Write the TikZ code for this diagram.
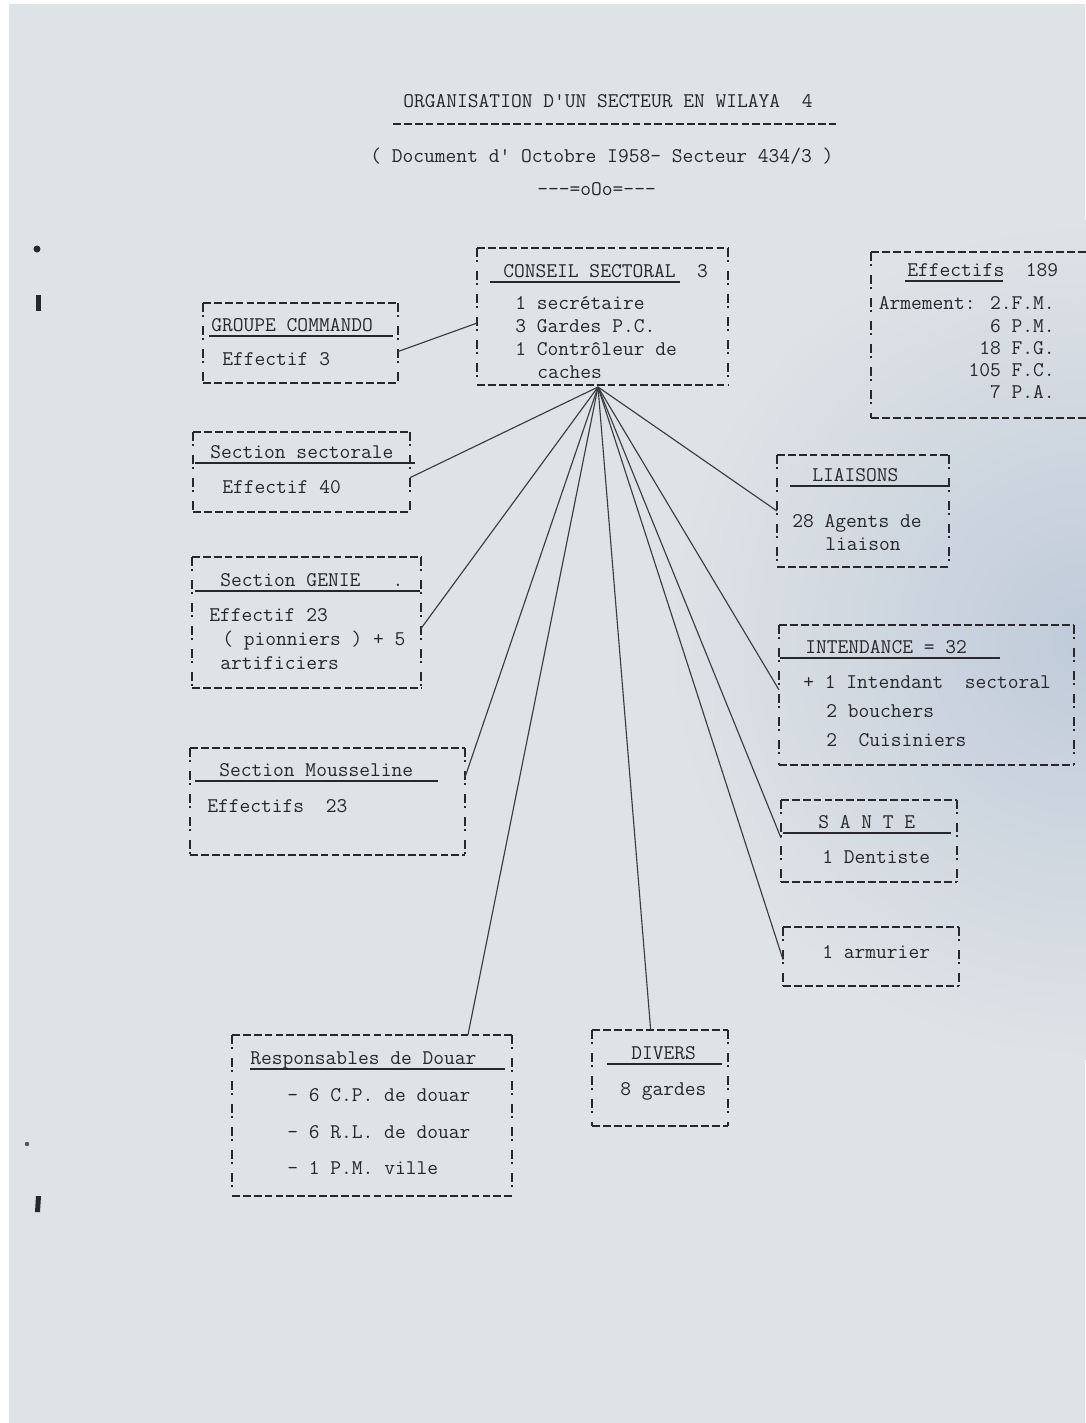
\documentclass[tikz,border=0pt]{standalone}
\usepackage{fontspec}
\usepackage{tikz}
\usetikzlibrary{positioning}
\usetikzlibrary{fit}
\definecolor{paper}{RGB}{222,227,230}
\definecolor{tint}{RGB}{192,203,218}
\definecolor{ink}{RGB}{40,40,44}

\begin{document}
\begin{tikzpicture}[x=0.02cm, y=-0.02cm,
    typed/.style={font=\ttfamily\fontsize{11.9}{13}\selectfont\addfontfeatures{FakeBold=1.4}, text=ink, inner sep=0pt, anchor=base west},
    frame/.style={inner sep=0pt, outer sep=0pt},
    hdash/.style={draw=ink, line width=1.1pt, dash pattern=on 4.4pt off 1.8pt},
    bang/.style={draw=ink, line width=1.1pt, dash pattern=on 5pt off 1.7pt on 1pt off 5.4pt},
    uline/.style={draw=ink, line width=1pt},
    wire/.style={draw=ink!90, line width=0.65pt}]
  \useasboundingbox (0,0) rectangle (1085,1423);
  \fill[white] (0,0) rectangle (1085,1423);
  \fill[paper] (9,4) rectangle (1085,1423);
  \shade[inner color=tint, outer color=paper] (1085,640) ellipse (420 and 420);
  % stray marks on the left edge
  \fill[ink] (37,249) circle (3.5);
  \fill[ink] (36,295) rectangle (41,311);
  \fill[ink!80] (27,1144) circle (2.2);
  \fill[ink] (36,1196) -- (41,1196) -- (40,1212) -- (35,1212) -- cycle;

  % title
  \node[typed] (titre) at (403,107) {ORGANISATION D'UN SECTEUR EN WILAYA\ \ 4};
  \draw[hdash] (393,124) -- (838,124);
  \node[typed] (soustitre) at (370,162) {( Document d' Octobre I958- Secteur 434/3 )};
  \node[typed] (orne) at (537,195) {---=oOo=---};

  % boxes
  \node[frame, fit={(477,248) (728,385)}] (conseil) {};
  \node[frame, fit={(203,303) (398,383)}] (commando) {};
  \node[frame, fit={(193,432) (410,512)}] (sectorale) {};
  \node[frame, fit={(192,557) (421,688)}] (genie) {};
  \node[frame, fit={(190,748) (465,855)}] (mousse) {};
  \node[frame, fit={(232,1035) (512,1196)}] (douar) {};
  \node[frame, fit={(592,1030) (728,1126)}] (divers) {};
  \node[frame, fit={(871,252) (1110,418)}] (effectifs) {};
  \node[frame, fit={(777,455) (949,567)}] (liaisons) {};
  \node[frame, fit={(779,625) (1074,765)}] (intendance) {};
  \node[frame, fit={(781,800) (957,882)}] (sante) {};
  \node[frame, fit={(783,927) (959,986)}] (armurier) {};
  \foreach \b in {conseil,commando,sectorale,genie,mousse,douar,divers,effectifs,liaisons,intendance,sante,armurier} {
    \draw[hdash] (\b.north west) -- (\b.north east) (\b.south west) -- (\b.south east);
    \draw[bang] (\b.north west) -- (\b.south west) (\b.north east) -- (\b.south east);
  }

  % headings and their rules
  \foreach \n/\x/\y/\t/\ua/\ub in {
      conseil/503/277/{CONSEIL SECTORAL\ \ 3}/490/680,
      commando/211/331/{GROUPE COMMANDO}/209/393,
      sectorale/210/458/{Section sectorale}/195/415,
      genie/220/586/{Section GENIE\ \ \ .}/195/420,
      mousse/219/776/{Section Mousseline}/195/438,
      douar/250/1064/{Responsables de Douar}/250/505,
      divers/631/1059/{DIVERS}/607/722,
      effectifs/907/276/{Effectifs\ \ 189}/905/1003,
      liaisons/812/481/{LIAISONS}/790/948,
      intendance/805/653/{INTENDANCE = 32}/780/1000,
      sante/818/828/{S A N T E}/783/951} {
    \node[typed] (\n-h) at (\x,\y) {\t};
    \draw[uline] (\ua,\y+5) -- (\ub,\y+5);
  }

  % contents
  \foreach \n/\x/\y/\t in {
      conseil-1/515/309/{1 secrétaire},
      conseil-2/515/332/{3 Gardes P.C.},
      conseil-3/515/355/{1 Contrôleur de},
      conseil-4/537/378/{caches},
      commando-1/222/365/{Effectif 3},
      sectorale-1/222/493/{Effectif 40},
      genie-1/209/621/{Effectif 23},
      genie-2/222/645/{( pionniers ) + 5},
      genie-3/220/669/{artificiers},
      mousse-1/207/812/{Effectifs\ \ 23},
      douar-1/287/1101/{- 6 C.P. de douar},
      douar-2/287/1138/{- 6 R.L. de douar},
      douar-3/287/1174/{- 1 P.M. ville},
      divers-1/620/1095/{8 gardes},
      liaisons-1/792/527/{28 Agents de},
      liaisons-2/825/550/{liaison},
      intendance-1/803/688/{+ 1 Intendant\ \ sectoral},
      intendance-2/826/717/{2 bouchers},
      intendance-3/826/746/{2\ \ Cuisiniers},
      sante-1/822/863/{1 Dentiste},
      armurier-1/822/958/{1 armurier}}
    \node[typed] (\n) at (\x,\y) {\t};
  \foreach \n/\y/\t in {
      effectifs-1/309/{Armement: 2.F.M.},
      effectifs-2/332/{6 P.M.},
      effectifs-3/354/{18 F.G.},
      effectifs-4/376/{105 F.C.},
      effectifs-5/398/{7 P.A.}}
    \node[typed, anchor=base east] (\n) at (1055,\y) {\t};

  % links
  \coordinate (hub) at (598,387);
  \draw[wire] (conseil.183) -- (commando.-5);
  \foreach \b in {sectorale.-3, genie.-3, mousse.10, douar.40, divers.101, liaisons.west, intendance.178, sante.178, armurier.182}
    \draw[wire] (hub) -- (\b);
\end{tikzpicture}
\end{document}
